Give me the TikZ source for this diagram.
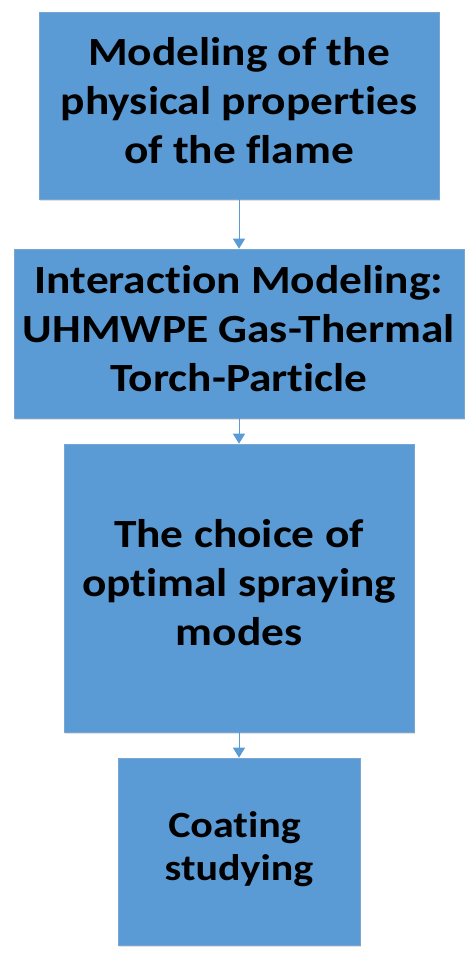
\documentclass[tikz,border=0pt]{standalone}
\usepackage{fontspec}
\setmainfont{Carlito}[FakeStretch=1.135,Ligatures=NoCommon]
\usetikzlibrary{arrows.meta,shadows}
\definecolor{boxblue}{RGB}{91,155,213}
\definecolor{boxedge}{RGB}{120,165,210}
\newcommand\bigln{\rule[-16pt]{0pt}{49pt}}
\newcommand\smallln{\rule[-14.5pt]{0pt}{43pt}}
\begin{document}
\begin{tikzpicture}[x=1pt,y=1pt,
  stepbox/.style={rectangle, fill=boxblue, draw=boxedge, line width=0.6pt,
    inner sep=0pt, align=center, text=black,
    font=\bfseries\fontsize{40}{49}\selectfont,
    drop shadow={shadow xshift=1pt,shadow yshift=-1.5pt,fill=black,opacity=0.12}},
  smalltext/.style={font=\bfseries\fontsize{37}{43}\selectfont},
  flow/.style={draw=boxblue, line width=1pt, -{Triangle[width=12pt,length=10pt]}}]
\useasboundingbox (0,0) rectangle (474,-961);
\fill[white] (0,0) rectangle (474,-961);
\node[stepbox, minimum width=400pt, minimum height=187pt] (b1) at (239,-105.5)
  {\bigln Modeling of the\\\bigln physical properties\\\bigln of the flame};
\node[stepbox, minimum width=450pt, minimum height=169pt] (b2) at (239,-333.5)
  {\bigln Interaction Modeling:\\\bigln UHMWPE Gas-Thermal\\\bigln Torch-Particle};
\node[stepbox, minimum width=350pt, minimum height=288pt] (b3) at (239,-588)
  {\bigln The choice of\\\bigln optimal spraying\\\bigln modes};
\node[stepbox, smalltext, minimum width=242pt, minimum height=187pt] (b4) at (239,-851.5)
  {\smallln Coating\hspace*{9pt}\\\smallln studying};
\draw[flow] (b1.south) -- (b2.north);
\draw[flow] (b2.south) -- (b3.north);
\draw[flow] (b3.south) -- (b4.north);
\end{tikzpicture}
\end{document}
